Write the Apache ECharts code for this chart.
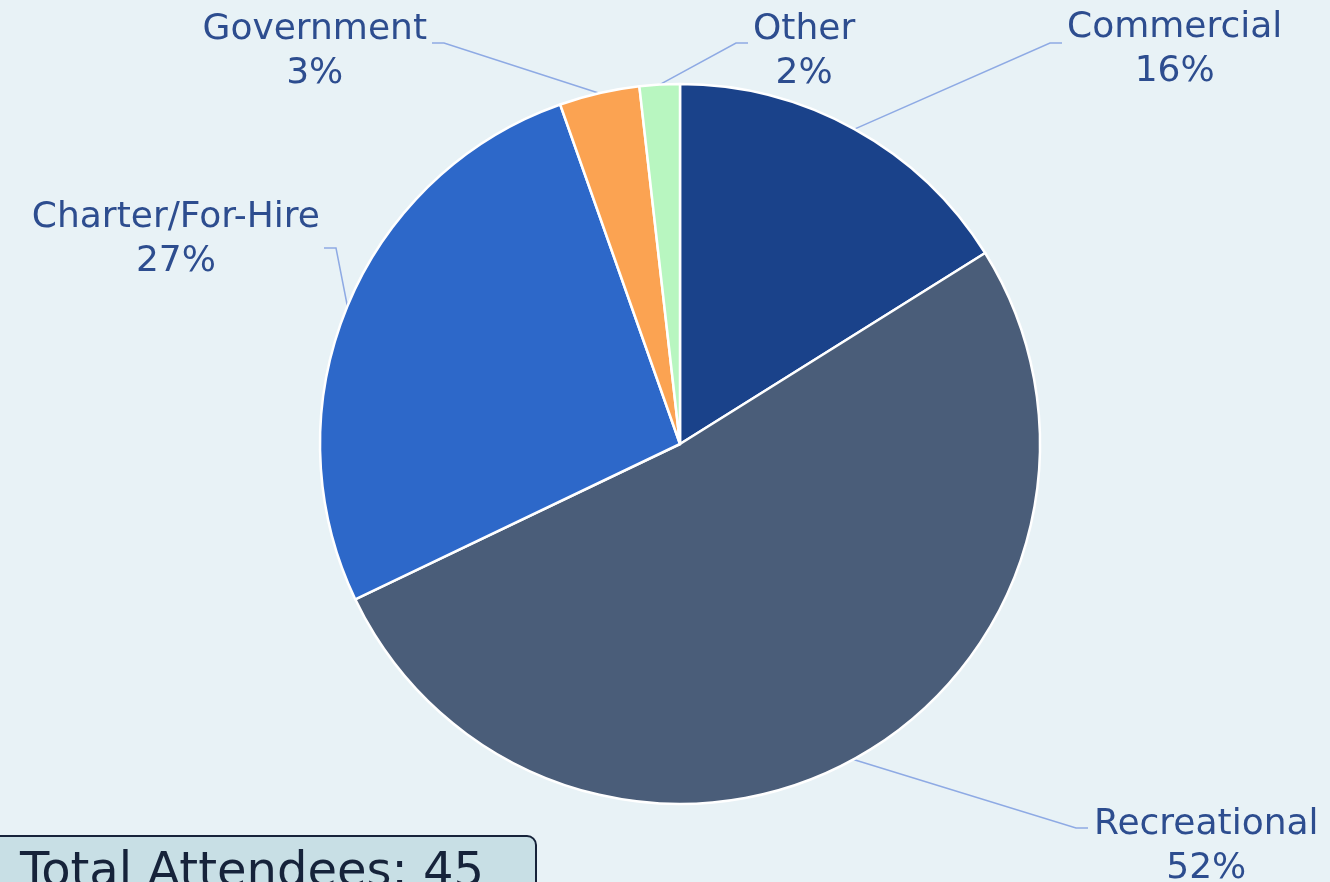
<!DOCTYPE html>
<html><head><meta charset="utf-8">
<script src="https://cdn.jsdelivr.net/npm/echarts@6/dist/echarts.min.js"></script>
<style>html,body{margin:0;padding:0;background:#e8f2f6;}#c{width:1330px;height:882px;}</style>
</head><body><div id="c"></div>
<script>
const categories = ['Commercial', 'Recreational', 'Charter/For-Hire', 'Government', 'Other'];
const values = [16.1, 51.8, 26.7, 3.6, 1.8];
const colors = ['#1a428a', '#4a5d79', '#2d68c9', '#fba352', '#b8f6c0'];
const totalAttendees = 45;

// label anchor placement (style only)
const labelPos = [
  {x: 1062, y: 43, align: 'left', pad: [14, 0, 0, 5]},
  {x: 1088, y: 828, align: 'left', pad: [38, 0, 0, 6]},
  {x: 324, y: 248, align: 'right', pad: [0, 4, 16, 0]},
  {x: 432, y: 43, align: 'right', pad: [17, 5, 0, 0]},
  {x: 748, y: 43, align: 'left', pad: [17, 0, 0, 5]}
];

const chart = echarts.init(document.getElementById('c'));
chart.setOption({
  backgroundColor: '#e8f2f6',
  animation: false,
  title: {
    text: 'Total Attendees: ' + totalAttendees,
    left: -10, top: 836,
    padding: [14, 52, 30, 30],
    backgroundColor: '#c8dfe5',
    borderColor: '#16233a', borderWidth: 2, borderRadius: 9,
    textStyle: {fontFamily: 'DejaVu Sans', fontSize: 48, fontWeight: 'normal', color: '#16233a', lineHeight: 48}
  },
  series: [{
    type: 'pie',
    center: [680, 444],
    radius: 360,
    startAngle: 90,
    clockwise: true,
    percentPrecision: 0,
    itemStyle: {borderColor: '#ffffff', borderWidth: 2.5},
    label: {
      formatter: '{n|{b}}\n{n|{d}%}',
      backgroundColor: 'rgba(0,0,0,0)',
      rich: {n: {fontFamily: 'DejaVu Sans', fontSize: 36, color: '#2d4d8f', lineHeight: 44, align: 'center'}}
    },
    labelLine: {length: 30, length2: 12, lineStyle: {color: '#8eaae4', width: 1.5}},
    labelLayout: function (p) {
      const lp = labelPos[p.dataIndex];
      return {x: lp.x, y: lp.y, align: lp.align, verticalAlign: 'middle'};
    },
    data: categories.map((c, i) => ({
      name: c, value: values[i],
      itemStyle: {color: colors[i]},
      label: {padding: labelPos[i].pad}
    }))
  }]
});
</script></body></html>
